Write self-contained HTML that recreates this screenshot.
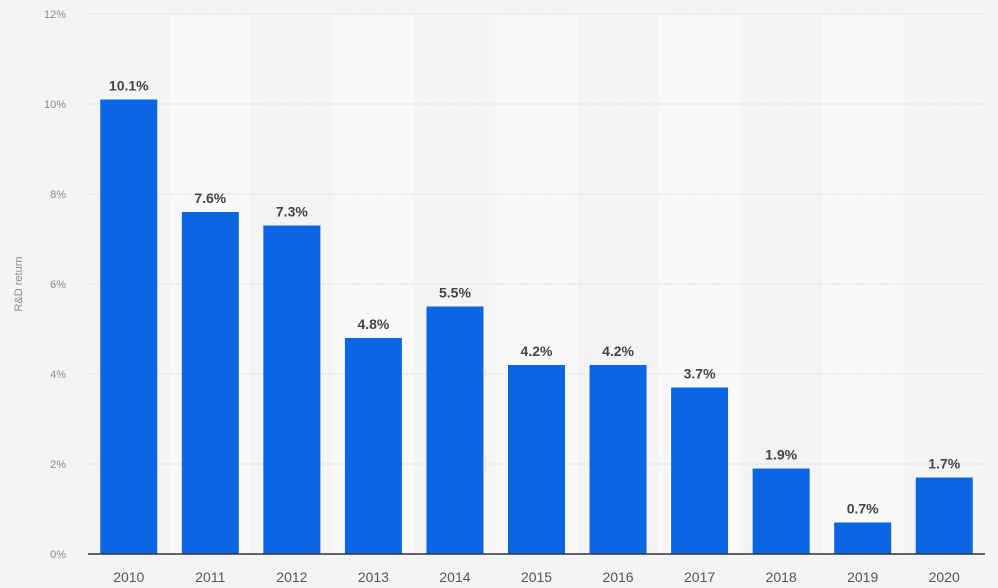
<!DOCTYPE html>
<html><head><meta charset="utf-8"><style>
body{margin:0;background:#f4f4f4;font-family:"Liberation Sans",Arial,sans-serif;}
svg{display:block}
</style></head><body>
<svg id="chart" width="998" height="588" viewBox="0 0 998 588"></svg>
<script>
const categories=["2010","2011","2012","2013","2014","2015","2016","2017","2018","2019","2020"];
const values=[10.1,7.6,7.3,4.8,5.5,4.2,4.2,3.7,1.9,0.7,1.7];
const yTicks=[0,2,4,6,8,10,12];
const NS="http://www.w3.org/2000/svg";
const svg=document.getElementById('chart');
const x0=88,x1=985,y0=554,y1=14,yMax=12;
const band=(x1-x0)/categories.length;
const bw=57;
const y=v=>y0-(v/yMax)*(y0-y1);
const xc=i=>x0+band*(i+0.5);
function mk(t,a){const e=document.createElementNS(NS,t);for(const k in a)e.setAttribute(k,a[k]);svg.appendChild(e);return e;}
categories.forEach((c,i)=>{if(i%2===1){const r=mk('rect',{x:x0+band*i,y:y1,width:band,height:y0-y1,fill:'#f9f9fa'});

}});
yTicks.forEach(t=>{
 if(t>0){const l=mk('line',{x1:x0,x2:x1,y1:y(t),y2:y(t),stroke:'#dcdcdc','stroke-dasharray':'2,1','stroke-width':1});
 
 }
 const tx=mk('text',{x:66,y:y(t)+4,'text-anchor':'end','font-size':11,fill:'#8a8a8a'});tx.textContent=t+'%';
 
 
});
categories.forEach((c,i)=>{
 const b=mk('rect',{x:xc(i)-bw/2,y:y(values[i]),width:bw,height:y0-y(values[i]),fill:'#0b66e4'});
 
 
 const v=mk('text',{x:xc(i),y:y(values[i])-9,'text-anchor':'middle','font-size':14,'font-weight':'bold',fill:'#444'});v.textContent=values[i]+'%';
 
 
 const l=mk('text',{x:xc(i),y:582,'text-anchor':'middle','font-size':14,fill:'#555'});l.textContent=c;
 
 
});
const ax=mk('line',{x1:x0,x2:x1,y1:y0,y2:y0,stroke:'#333','stroke-width':1.5});


const yt=mk('text',{x:0,y:0,transform:'translate(22,284) rotate(-90)','text-anchor':'middle','font-size':11,fill:'#8a8a8a'});yt.textContent='R&D return';


</script>
</body></html>
